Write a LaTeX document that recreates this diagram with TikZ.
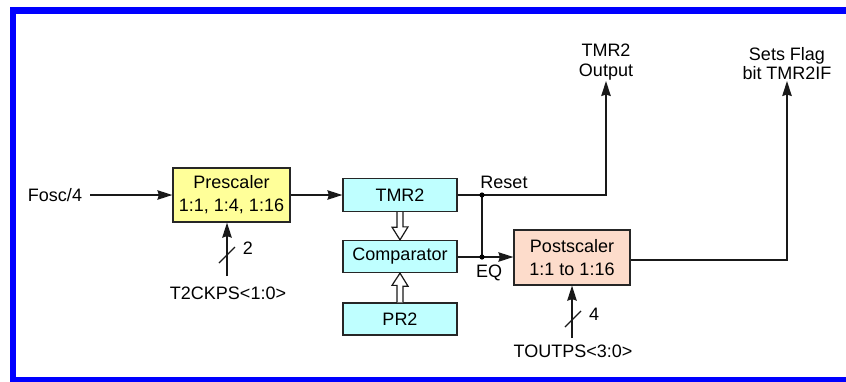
\documentclass[tikz,border=0pt]{standalone}
\usepackage{fontspec}
\setmainfont{Liberation Sans}
\usetikzlibrary{arrows.meta}
\definecolor{preY}{HTML}{FFFF99}
\definecolor{boxC}{HTML}{BFFFFF}
\definecolor{postP}{HTML}{FDDCCB}
\definecolor{frameB}{HTML}{0000FF}
\tikzset{
  blk/.style={draw=black!85, line width=1.3pt, align=center, inner sep=0pt,
    font=\fontsize{18}{23}\selectfont},
  lbl/.style={inner sep=1pt, align=center, font=\fontsize{18}{19.5}\selectfont},
  wire/.style={line width=1.3pt, black!90},
  arr/.style={wire, -{Stealth[length=15pt,width=9.5pt,inset=1.5pt]}},
  hollow/.style={line width=1.2pt, black!90, fill=white, line join=miter},
}
\begin{document}
\begin{tikzpicture}[x=1pt,y=-1pt]
\useasboundingbox (0,0) rectangle (846,381);
\clip (0,0) rectangle (846,381);
% frame
\draw[frameB, line width=6.5pt] (880,10.5) -- (13,10.5) -- (13,380.5) -- (880,380.5);

% blocks
\node[blk, fill=preY, minimum width=117pt, minimum height=54pt] (pre) at (231.5,195) {Prescaler\\1:1, 1:4, 1:16};
\node[blk, fill=boxC, minimum width=114pt, minimum height=33pt] (tmr) at (400,195) {TMR2};
\node[blk, fill=boxC, minimum width=114pt, minimum height=32pt] (cmp) at (400,256.5) {Comparator};
\node[blk, fill=boxC, minimum width=114pt, minimum height=32pt] (pr2) at (400,319) {PR2};
\node[blk, fill=postP, minimum width=116pt, minimum height=55pt] (post) at (572,257.5) {Postscaler\\1:1 to 1:16};

% labels
\node[lbl] (fosc) at (55,195) {Fosc/4};
\node[lbl, anchor=south] (tmrout) at (606,81) {TMR2\\Output};
\node[lbl, anchor=south] (flag) at (787,81) {Sets Flag\\bit TMR2IF};
\node[lbl] (reset) at (504,182) {Reset};
\node[lbl] (eq) at (489,273) {EQ};
\node[lbl] (t2) at (228,293) {T2CKPS<1:0>};
\node[lbl] (tout) at (573,351) {TOUTPS<3:0>};
\node[lbl] (two) at (248,248) {2};
\node[lbl] (four) at (594,314) {4};

% coordinates
\coordinate (c1) at (227,276);
\coordinate (c2) at (572,338);
\coordinate (j1) at (482,195);
\coordinate (j2) at (482,257);

% connectors
\draw[arr] ([xshift=7pt]fosc.east) -- (pre.west);
\draw[arr] (pre.east) -- (pre.east -| tmr.west);
\draw[arr] (tmr.east) -| (tmrout.south);
\draw[wire] (j1) -- (j2);
\draw[arr] (cmp.east |- j2) -- (j2 -| post.west);
\draw[arr] ([yshift=-2.5pt]post.east) -| (flag.south);
\draw[arr] (c1) -- (c1 |- pre.south);
\draw[arr] (c2) -- (c2 |- post.south);
\fill (j1) circle (2.6pt);
\fill (j2) circle (2.6pt);

% bus slashes
\draw[wire] (219,263) -- (235,247);
\draw[wire] (565,327) -- (581,311);

% hollow arrows
\draw[hollow] ([xshift=-3pt]tmr.south) -- ++(0,15) -- ++(-5,0) -- (cmp.north) -- ++(8,-13) -- ++(-5,0) -- ([xshift=3pt]tmr.south);
\draw[hollow] ([xshift=-3pt]pr2.north) -- ++(0,-17) -- ++(-5,0) -- (cmp.south) -- ++(8,13) -- ++(-5,0) -- ([xshift=3pt]pr2.north);
\end{tikzpicture}
\end{document}
